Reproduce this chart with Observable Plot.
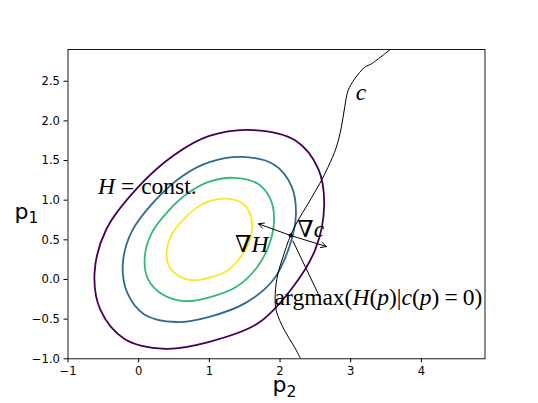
<!DOCTYPE html>
<html><head><meta charset="utf-8">
<script src="https://cdn.jsdelivr.net/npm/d3@7"></script>
<script src="https://cdn.jsdelivr.net/npm/@observablehq/plot@0.6"></script>
<style>body{margin:0;background:#fff} svg{display:block}</style>
</head><body><div id="chart"></div>
<script>
// ---- data ----
const xTicks = [-1, 0, 1, 2, 3, 4];
const yTicks = [-1, -0.5, 0, 0.5, 1, 1.5, 2, 2.5];
const levelNames = ["H1", "H2", "H3", "H4"];
const levelColors = ["#440154", "#31688e", "#35b779", "#fde725"];

// contour lines of H (going round each loop)
const contourH1 = [[2.624,0.921],[2.541,1.394],[2.218,1.752],[1.622,1.884],[1.000,1.810],[0.498,1.566],[-0.028,1.145],[-0.461,0.627],[-0.624,0.090],[-0.541,-0.384],[-0.200,-0.750],[0.378,-0.874],[1.000,-0.786],[1.682,-0.556],[2.148,-0.135],[2.501,0.383]];
const contourH2 = [[2.225,0.819],[2.162,1.176],[1.919,1.446],[1.469,1.546],[1.000,1.480],[0.621,1.305],[0.224,0.988],[-0.102,0.597],[-0.225,0.191],[-0.162,-0.166],[0.080,-0.440],[0.531,-0.536],[1.000,-0.470],[1.514,-0.295],[1.900,-0.010],[2.132,0.413]];
const contourH3 = [[1.915,0.739],[1.868,1.006],[1.687,1.207],[1.350,1.282],[1.000,1.234],[0.718,1.102],[0.421,0.865],[0.178,0.574],[0.085,0.271],[0.132,0.004],[0.333,-0.186],[0.650,-0.272],[1.000,-0.224],[1.384,-0.092],[1.667,0.145],[1.845,0.436]];
const contourH4 = [[1.605,0.660],[1.574,0.836],[1.454,0.969],[1.232,1.019],[1.000,0.987],[0.813,0.900],[0.617,0.743],[0.456,0.550],[0.395,0.350],[0.426,0.174],[0.562,0.048],[0.768,-0.009],[1.000,0.023],[1.252,0.110],[1.428,0.267],[1.559,0.460]];

// constraint curve c(p) = 0
const curveC = [[2.291,-1.0],[2.206,-0.854],[2.064,-0.643],[1.946,-0.391],[1.932,-0.180],[1.970,0.072],[2.041,0.281],[2.149,0.555],[2.254,0.744],[2.396,0.955],[2.560,1.207],[2.679,1.416],[2.797,1.668],[2.868,1.921],[2.915,2.173],[2.963,2.383],[3.057,2.531],[3.199,2.677],[3.294,2.720],[3.553,2.897],[3.62,2.95]];

const argmaxPoint = [2.149, 0.555];
const gradHTip = [1.695, 0.702];
const gradCTip = [2.655, 0.416];
const argmaxLineStart = [2.18, 0.49];
const argmaxLineEnd = [2.54, -0.18];

const labelHConst = [-0.57, 1.07];
const labelC = [3.08, 2.26];
const labelGradH = [1.37, 0.34];
const labelGradC = [2.25, 0.53];
const labelArgmax = [1.93, -0.33];

// ---- build tables ----
const contours = [contourH1, contourH2, contourH3, contourH4];
const contourRows = contours.flatMap((pts, i) => pts.map(([x, y]) => ({x, y, level: levelNames[i]})));
const cRows = curveC.map(([x, y]) => ({x, y}));
const arrows = [
  {x1: argmaxPoint[0], y1: argmaxPoint[1], x2: gradHTip[0], y2: gradHTip[1]},
  {x1: argmaxPoint[0], y1: argmaxPoint[1], x2: gradCTip[0], y2: gradCTip[1]}
];
const links = [{x1: argmaxLineStart[0], y1: argmaxLineStart[1], x2: argmaxLineEnd[0], y2: argmaxLineEnd[1]}];

const chart = Plot.plot({
  width: 538,
  height: 403,
  marginLeft: 67.5,
  marginRight: 53.5,
  marginTop: 49,
  marginBottom: 44.7,
  style: {fontFamily: "DejaVu Sans", fontSize: "11.6px", color: "black", background: "white", overflow: "visible"},
  x: {domain: [-1, 4.9]},
  y: {domain: [-1, 2.9]},
  color: {domain: levelNames, range: levelColors},
  marks: [
    Plot.line(contourRows, {x: "x", y: "y", z: "level", stroke: "level", strokeWidth: 1.8, curve: "catmull-rom-closed"}),
    Plot.line(cRows, {x: "x", y: "y", stroke: "black", strokeWidth: 1, curve: "catmull-rom", clip: true}),
    Plot.arrow(arrows, {x1: "x1", y1: "y1", x2: "x2", y2: "y2", stroke: "black", strokeWidth: 1, headLength: 9, headAngle: 55}),
    Plot.link(links, {x1: "x1", y1: "y1", x2: "x2", y2: "y2", stroke: "black", strokeWidth: 1}),
    Plot.dot([argmaxPoint], {x: d => d[0], y: d => d[1], r: 2, fill: "black"}),
    Plot.frame({stroke: "black", strokeWidth: 0.9}),
    Plot.axisX({ticks: xTicks, tickFormat: d3.format("d"), tickSize: 4, tickPadding: 3.5, label: null}),
    Plot.axisY({ticks: yTicks, tickFormat: d3.format(".1f"), tickSize: 4, tickPadding: 4, label: null})
  ]
});
document.getElementById("chart").appendChild(chart);

// ---- text annotations positioned with the plot's own scales ----
const sx = chart.scale("x"), sy = chart.scale("y");
const svg = d3.select(chart);
const serif = "'Liberation Serif', 'DejaVu Serif', serif";
function mathText(pos, parts, size) {
  const t = svg.append("text")
    .attr("x", sx.apply(pos[0])).attr("y", sy.apply(pos[1]))
    .attr("text-anchor", "start")
    .attr("font-family", serif).attr("font-size", size).attr("fill", "black");
  for (const p of parts) {
    const s = t.append("tspan").text(p.t);
    if (p.i) s.attr("font-style", "italic");
    if (p.dx) s.attr("dx", p.dx);
    if (p.f) s.attr("font-family", p.f);
  }
  return t;
}
const FS = 23.5;
mathText(labelHConst, [{t: "H", i: 1}, {t: "=", dx: 6}, {t: "const.", dx: 7}], FS);
mathText(labelC, [{t: "c", i: 1}], FS);
mathText(labelGradH, [{t: "∇", f: "'DejaVu Serif'"}, {t: "H", i: 1}], FS);
mathText(labelGradC, [{t: "∇", f: "'DejaVu Serif'"}, {t: "c", i: 1}], FS);
mathText(labelArgmax, [{t: "argmax("}, {t: "H", i: 1}, {t: "("}, {t: "p", i: 1}, {t: ")|"}, {t: "c", i: 1}, {t: "("}, {t: "p", i: 1}, {t: ")"}, {t: "=", dx: 5}, {t: "0)", dx: 5}], FS);

// axis titles
function axisTitle(x, y, main, sub) {
  const t = svg.append("text").attr("x", x).attr("y", y).attr("text-anchor", "start")
    .attr("font-family", "DejaVu Sans").attr("font-size", 22).attr("fill", "black");
  t.append("tspan").text(main);
  t.append("tspan").text(sub).attr("font-size", 15.5).attr("dy", 4.6);
}
axisTitle(14.5, 218.7, "p", "1");
axisTitle(272.5, 392, "p", "2");
</script>
</body></html>
